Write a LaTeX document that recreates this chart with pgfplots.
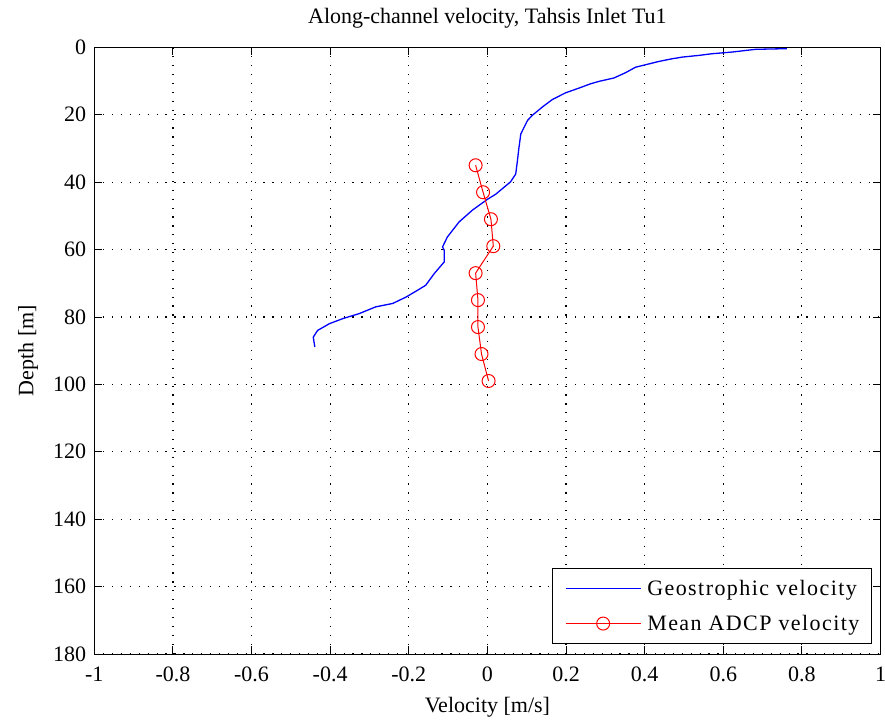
\documentclass[border=0pt]{standalone}
\usepackage{fontspec}
\setmainfont{Liberation Serif}
\newfontfamily\legfont{Liberation Serif}[LetterSpace=6.5]
\usepackage{pgfplots}
\pgfplotsset{compat=1.18}
\begin{document}
\begin{tikzpicture}
\begin{axis}[
  scale only axis,
  width=786.2pt, height=606.7pt,
  xmin=-1, xmax=1, ymin=0, ymax=180,
  y dir=reverse,
  xtick={-1,-0.8,-0.6,-0.4,-0.2,0,0.2,0.4,0.6,0.8,1},
  ytick={0,20,40,60,80,100,120,140,160,180},
  /pgf/number format/assume math mode=true,
  font=\fontsize{22}{26}\selectfont,
  tick align=inside,
  major tick length=8pt,
  tick style={black, line width=0.9pt},
  axis line style={black, line width=0.9pt},
  grid=major,
  grid style={black, line width=1.2pt, dash pattern=on 1.2pt off 7.7pt},
  xticklabel style={anchor=base, inner sep=0pt, yshift=-27.5pt},
  yticklabel style={anchor=east, inner sep=0pt, xshift=-8pt},
  title={Along-channel velocity, Tahsis Inlet Tu1},
  title style={at={(0.5,1)}, anchor=base, yshift=18pt, inner sep=0pt},
  xlabel={Velocity [m/s]},
  xlabel style={at={(0.5,0)}, anchor=base, yshift=-58.5pt, inner sep=0pt},
  ylabel={Depth [m]},
  ylabel style={at={(0,0.5)}, anchor=base, yshift=61pt, inner sep=0pt},
  legend style={at={(0.989,0.0165)}, anchor=south east, draw=black, line width=0.9pt, fill=white,
    font=\legfont\fontsize{22}{26}\selectfont, inner xsep=6pt, inner ysep=2.5pt, row sep=0pt, column sep=0pt,
    nodes={inner xsep=6pt, inner ysep=0pt, minimum height=35pt}},
  legend cell align=left,
  legend image code/.code={\path (0pt,0pt); \draw[mark repeat=2,mark phase=2] plot coordinates {(7pt,0pt) (44.5pt,0pt) (82pt,0pt)};},
]
\addplot[draw=blue, line width=1.3pt, mark=none] coordinates {
(0.762,0.4)(0.682,0.6)(0.623,1.4)(0.572,1.9)(0.538,2.4)(0.496,2.9)(0.47,3.4)(0.436,4.2)
(0.398,5.3)(0.377,5.9)(0.352,7.5)(0.322,9.1)(0.284,10.1)(0.263,10.8)(0.233,12.1)(0.199,13.5)(0.165,15.5)
(0.14,17.7)(0.114,20.2)(0.102,21.7)(0.085,25.7)(0.080,30.0)(0.076,34.0)(0.072,37.6)
(0.059,39.9)(0.021,43.6)(0.0,45.1)(-0.038,48.3)(-0.072,51.8)(-0.102,56.3)(-0.114,59.2)
(-0.11,60.2)(-0.11,63.7)(-0.135,67.1)(-0.157,70.6)(-0.178,72.1)(-0.207,74.1)(-0.241,76.0)
(-0.284,77.0)(-0.326,79.0)(-0.368,80.5)(-0.402,82.0)(-0.432,84.0)(-0.443,86.0)(-0.439,88.9)
};
\addlegendentry{Geostrophic velocity}
\addplot[draw=red, line width=1pt, mark=o, mark size=6.5pt, mark options={draw=red, line width=1pt}] coordinates {
(-0.030,35)(-0.011,43)(0.009,51)(0.015,59)(-0.030,67)(-0.024,75)(-0.024,83)(-0.015,91)(0.003,99)
};
\addlegendentry{Mean ADCP velocity}
\end{axis}
\pgfresetboundingbox
\path (current axis.south west) ++(-94.3pt,-69pt) rectangle ++(885pt,723pt);
\end{tikzpicture}
\end{document}
